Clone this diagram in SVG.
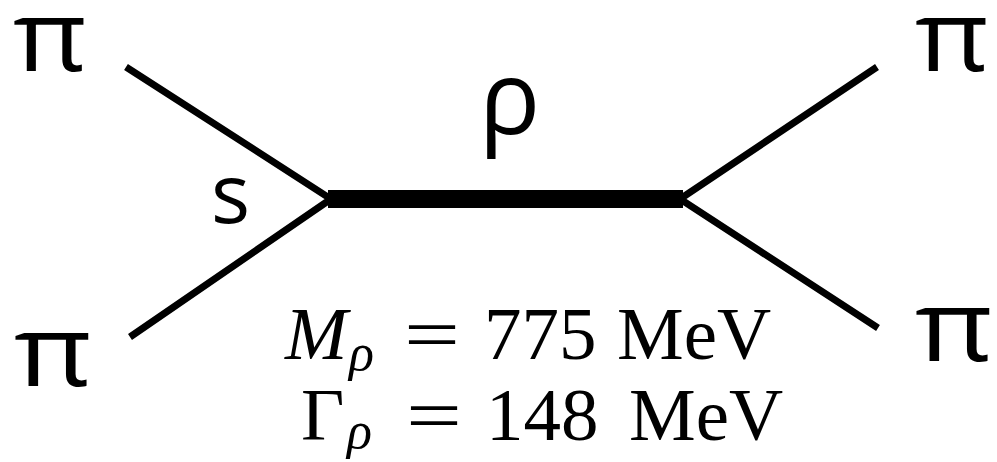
<svg xmlns="http://www.w3.org/2000/svg" width="997" height="462" viewBox="0 0 997 462">
<style>
.pi{font-family:"Open Sans","DejaVu Sans",sans-serif;font-size:98px;fill:#000}
.lbl{font-family:"Open Sans","DejaVu Sans",sans-serif;fill:#000}
.m{font-family:"Liberation Serif","DejaVu Serif",serif;font-size:75px;fill:#000}
.sub{font-family:"Liberation Serif","DejaVu Serif",serif;font-size:52px;font-style:italic;fill:#000}
.thin{stroke:#000;stroke-width:7;fill:none;stroke-linecap:butt}
.thick{stroke:#000;stroke-width:18;fill:none}
</style>
<rect width="997" height="462" fill="#fff"/>
<g id="connectors">
<path class="thin" d="M126,67 L331,199 L130,337"/>
<path class="thin" d="M877,67 L680,199 L878,328"/>
<line class="thick" x1="328" y1="199" x2="683" y2="199"/>
</g>
<g id="pi-top-left"><text class="pi" x="13" y="71" textLength="74" lengthAdjust="spacingAndGlyphs">π</text></g>
<g id="pi-bottom-left"><text class="pi" x="14" y="386" textLength="78" lengthAdjust="spacingAndGlyphs">π</text></g>
<g id="pi-top-right"><text class="pi" x="915" y="71" textLength="74" lengthAdjust="spacingAndGlyphs">π</text></g>
<g id="pi-bottom-right"><text class="pi" x="915" y="361" textLength="78" lengthAdjust="spacingAndGlyphs">π</text></g>
<g id="s-label"><text class="lbl" x="211" y="223" font-size="82">s</text></g>
<g id="rho-label"><text class="lbl" x="479" y="134" font-size="102">ρ</text></g>
<g id="params">
<text class="m" x="285" y="359" font-style="italic">M</text>
<text class="sub" x="349" y="370">ρ</text>
<text class="m" x="404" y="359" textLength="56" lengthAdjust="spacingAndGlyphs">=</text>
<text class="m" x="484" y="359">775</text>
<text class="m" x="617" y="359">MeV</text>
<text class="m" x="301" y="440">Γ</text>
<text class="sub" x="347" y="448">ρ</text>
<text class="m" x="406" y="440" textLength="56" lengthAdjust="spacingAndGlyphs">=</text>
<text class="m" x="486" y="440">148</text>
<text class="m" x="629" y="440">MeV</text>
</g>
</svg>
